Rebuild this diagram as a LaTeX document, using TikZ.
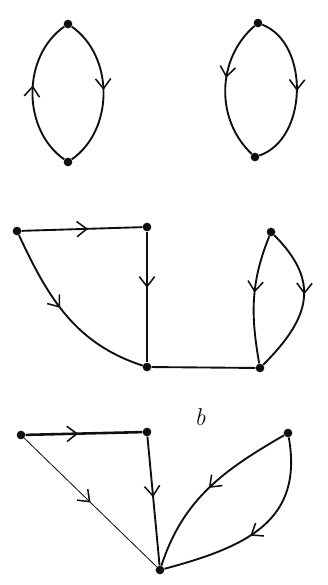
\documentclass[tikz,border=0pt]{standalone}
\usepackage{tikz}
\usetikzlibrary{arrows.meta, decorations.markings}
\definecolor{ink}{RGB}{15,15,15}
\tikzset{
  vtx/.style={circle, fill=ink, draw=none, inner sep=0pt, minimum size=2.6mm},
  edge/.style={line width=1.6pt, color=ink},
  thinedge/.style={line width=0.7pt, color=ink},
  thickedge/.style={line width=2.2pt, color=ink},
  midarrow/.style={postaction={decorate}, decoration={markings,
    mark=at position #1 with {\arrow[line width=1.3pt]{Straight Barb[length=3mm, width=4.6mm]}}}},
  midarrow/.default=0.5,
  lbl/.style={font=\huge\itshape, text=ink}
}

\begin{document}
\begin{tikzpicture}[x=0.3mm, y=0.3mm]
  \useasboundingbox (0,0) rectangle (327,585);

  % Top left: two-vertex cycle
  \node[vtx] (t1) at (68,561) {};
  \node[vtx] (b1) at (68,423) {};
  \draw[edge, midarrow=0.48] (t1) to[bend left=55] (b1);
  \draw[edge, midarrow=0.55] (b1) to[bend left=55] (t1);

  % Top right: two parallel edges
  \node[vtx] (t2) at (258,562) {};
  \node[vtx] (b2) at (255,428) {};
  \draw[edge, midarrow=0.42] (t2) to[bend right=48] (b2);
  \draw[edge, midarrow=0.5] (t2) to[bend left=70] (b2);

  % Middle graph
  \node[vtx] (a) at (17,354) {};
  \node[vtx] (b) at (147,358) {};
  \node[vtx] (c) at (147,218) {};
  \node[vtx] (d) at (260,217) {};
  \node[vtx] (e) at (271,353) {};
  \draw[edge, midarrow=0.55] (a) -- (b);
  \draw[edge, midarrow=0.43] (b) -- (c);
  \draw[edge, midarrow=0.45] (a) to[out=-65, in=162] (c);
  \draw[edge] (c) -- (d);
  \draw[edge, midarrow=0.45] (e) to[out=-112, in=100] (d);
  \draw[edge, midarrow=0.45] (e) to[out=-45, in=45, looseness=1.3] (d);

  % Label
  \node[lbl] (tag) at (200,168) {b};

  % Bottom graph
  \node[vtx] (f) at (21,150) {};
  \node[vtx] (g) at (147,153) {};
  \node[vtx] (h) at (288,152) {};
  \node[vtx] (i) at (160,15) {};
  \draw[thickedge, midarrow=0.45] (f) -- (g);
  \draw[thinedge, midarrow=0.5] (f) -- (i);
  \draw[edge, midarrow=0.47] (g) -- (i);
  \draw[edge, midarrow=0.5] (h) to[out=-150, in=72] (i);
  \draw[edge, midarrow=0.55] (h) to[out=-80, in=15, looseness=1.2] (i);
\end{tikzpicture}
\end{document}
